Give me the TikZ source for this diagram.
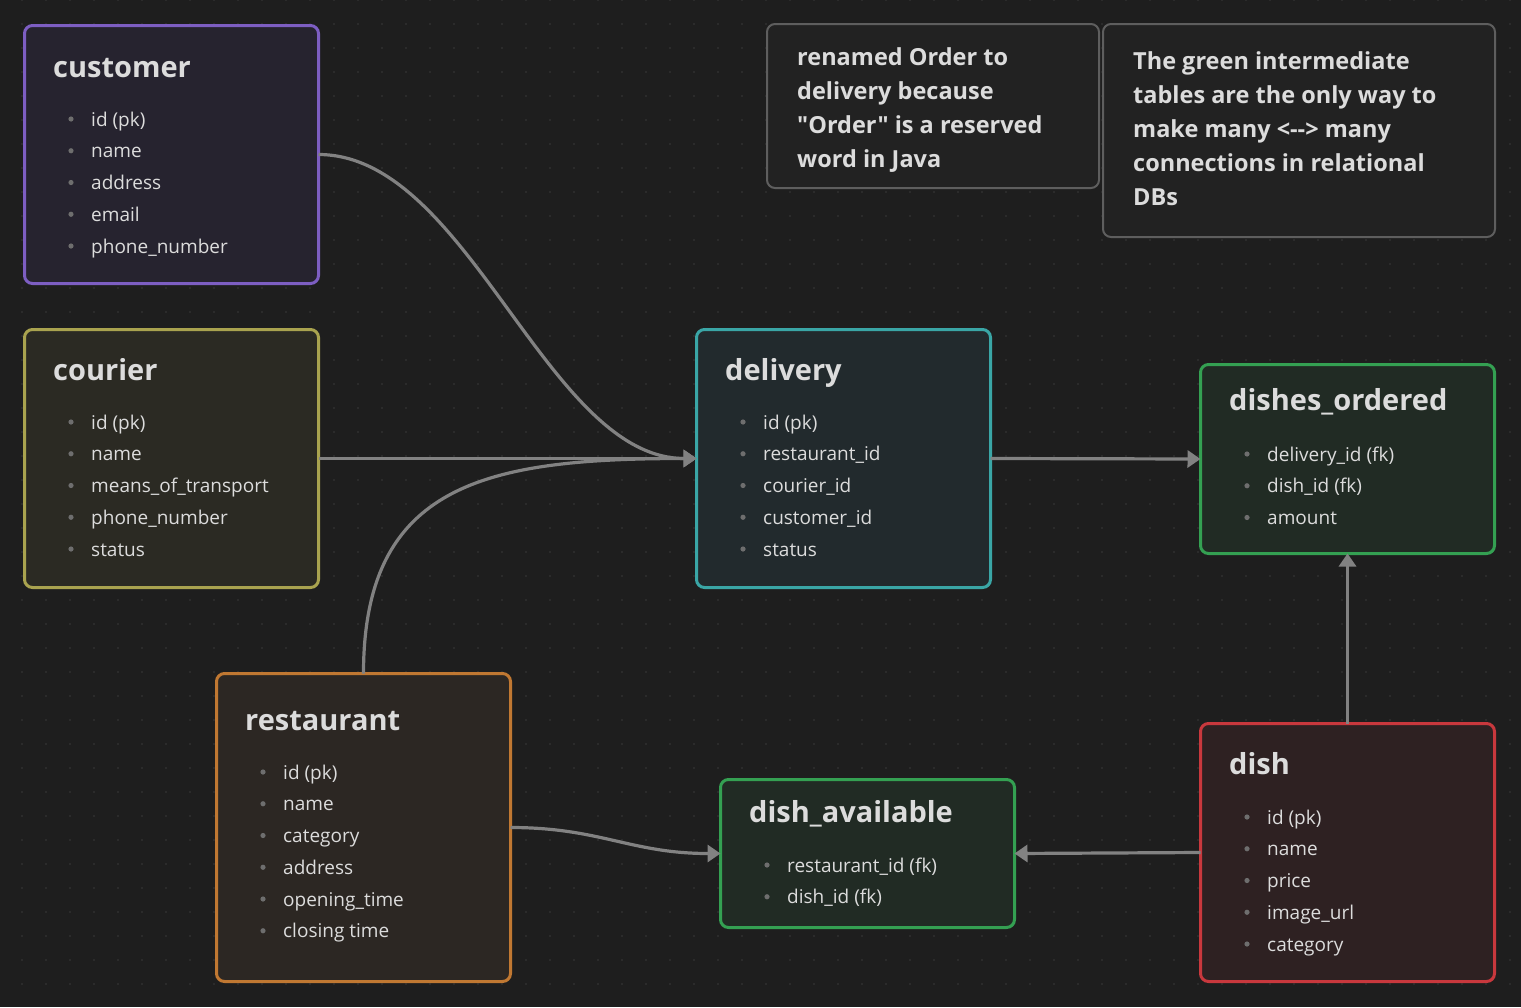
\documentclass[tikz,border=0pt]{standalone}
\usepackage{fontspec}
\setmainfont{Open Sans}[Ligatures=TeXOff]
\usetikzlibrary{arrows.meta}

\definecolor{canvas}{HTML}{1E1E1E}
\definecolor{dotcol}{HTML}{303030}
\definecolor{textcol}{HTML}{DCDCDC}
\definecolor{bulletcol}{HTML}{6E6E6E}
\definecolor{linkcol}{HTML}{828282}
\definecolor{notefill}{HTML}{222222}
\definecolor{notedraw}{HTML}{5E5E5E}
\definecolor{purpledraw}{HTML}{7D5EC2}
\definecolor{purplefill}{HTML}{26232F}
\definecolor{olivedraw}{HTML}{A9A34F}
\definecolor{olivefill}{HTML}{2B2A23}
\definecolor{tealdraw}{HTML}{3AA6A6}
\definecolor{tealfill}{HTML}{222A2D}
\definecolor{greendraw}{HTML}{34A052}
\definecolor{greenfill}{HTML}{212B24}
\definecolor{orangedraw}{HTML}{C07832}
\definecolor{orangefill}{HTML}{2C2723}
\definecolor{reddraw}{HTML}{C8383D}
\definecolor{redfill}{HTML}{2E2122}

% list of columns of one table, with the grey dots in front
\newcommand{\fieldlist}[4]{%
  \foreach \f [count=\k from 0] in {#4}{
    \fill[bulletcol] (#2-20, #3+\k*31.75) circle (2.6);
    \node[field] (#1-\k) at (#2, #3+7+\k*31.75) {\f};
  }}

\begin{document}
\begin{tikzpicture}[x=1pt, y=-1pt,
  table/.style={draw=#1draw, fill=#1fill, line width=3pt, rounded corners=8pt,
    anchor=north west, minimum width=294pt, inner sep=0pt, outer sep=0pt},
  note/.style={draw=notedraw, fill=notefill, line width=2pt, rounded corners=8pt,
    anchor=north west, inner sep=0pt, outer sep=0pt},
  title/.style={anchor=base west, inner sep=0pt, text=textcol,
    font=\fontsize{29}{34}\selectfont\bfseries},
  field/.style={anchor=base west, inner sep=0pt, text=textcol,
    font=\fontsize{19}{23}\selectfont},
  notetext/.style={anchor=base west, inner sep=0pt, text=textcol, align=left,
    font=\fontsize{23.5}{34}\selectfont\bfseries},
  link/.style={draw=linkcol, line width=3.2pt, -{Triangle[length=13pt,width=17pt]}}]

\useasboundingbox (0,0) rectangle (1521,1007);
\fill[canvas] (0,0) rectangle (1521,1007);
\foreach \i in {0,...,62}{
  \foreach \j in {0,...,41}{
    \fill[dotcol] (22+24*\i, 24*\j) circle (1.2);
  }
}

% notes (base = baseline of the last line)
\node[note, minimum width=332pt, minimum height=164pt] (note1) at (767,24) {};
\node[notetext] (note1-text) at (797,167) {renamed Order to\\delivery because\\"Order" is a reserved\\word in Java};
\node[note, minimum width=392pt, minimum height=213pt] (note2) at (1103,24) {};
\node[notetext] (note2-text) at (1133,205) {The green intermediate\\tables are the only way to\\make many <--> many\\connections in relational\\DBs};

% tables
\node[table=purple, minimum height=258pt] (customer) at (24.5,25.5) {};
\node[title] (customer-title) at (53,77) {customer};
\fieldlist{customer}{91}{119}{id (pk), name, address, email, phone\_number}

\node[table=olive, minimum height=258pt] (courier) at (24.5,329.5) {};
\node[title] (courier-title) at (53,380) {courier};
\fieldlist{courier}{91}{422}{id (pk), name, means\_of\_transport, phone\_number, status}

\node[table=teal, minimum height=258pt] (delivery) at (696.5,329.5) {};
\node[title] (delivery-title) at (725,380) {delivery};
\fieldlist{delivery}{763}{422}{id (pk), restaurant\_id, courier\_id, customer\_id, status}

\node[table=green, minimum height=189pt] (dishes-ordered) at (1200.5,364.5) {};
\node[title] (dishes-ordered-title) at (1229,410) {dishes\_ordered};
\fieldlist{dishes-ordered}{1267}{454}{delivery\_id (fk), dish\_id (fk), amount}

\node[table=orange, minimum height=308pt] (restaurant) at (216.5,673.5) {};
\node[title] (restaurant-title) at (245,730) {restaurant};
\fieldlist{restaurant}{283}{772}{id (pk), name, category, address, opening\_time, closing time}

\node[table=green, minimum height=148pt] (dish-available) at (720.5,779.5) {};
\node[title] (dish-available-title) at (749,822) {dish\_available};
\fieldlist{dish-available}{787}{865}{restaurant\_id (fk), dish\_id (fk)}

\node[table=red, minimum height=258pt] (dish) at (1200.5,723.5) {};
\node[title] (dish-title) at (1229,774) {dish};
\fieldlist{dish}{1267}{817}{id (pk), name, price, image\_url, category}

% connections
\draw[link] (customer.east) .. controls +(150,0) and +(-150,0) .. (delivery.west);
\draw[link] (courier.east) -- (delivery.west);
\draw[link] (restaurant.north) .. controls +(0,-190) and +(-210,0) .. (delivery.west);
\draw[link] (delivery.east) -- (dishes-ordered.west);
\draw[link] (dish.north) -- (dishes-ordered.south);
\draw[link] (dish.west) -- (dish-available.east);
\draw[link] (restaurant.east) .. controls +(90,0) and +(-90,0) .. (dish-available.west);
\end{tikzpicture}
\end{document}
